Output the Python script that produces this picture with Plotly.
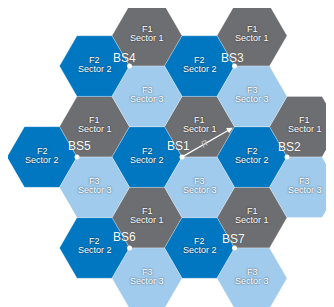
import math
import plotly.graph_objects as go

# Base-station sites on the hexagonal lattice
# column in units of hex radius R, row in units of hex height (R*sqrt(3)); y up
bs_names = ["BS1", "BS2", "BS3", "BS4", "BS5", "BS6", "BS7"]
bs_col = [0.0, 3.0, 1.5, -1.5, -3.0, -1.5, 1.5]
bs_row = [0.0, 0.0, 1.5, 1.5, 0.0, -1.5, -1.5]

# Sectors served by each site
sector_freq = ["F1", "F2", "F3"]
sector_name = ["Sector 1", "Sector 2", "Sector 3"]
sector_colors = ["#6d6e71", "#0077c0", "#a0cbec"]

# Reference radius arrow label
radius_label = "R"

S3 = math.sqrt(3)
PX = 35.0   # pixels per unit
OFF = 8.0   # page body margin offset

# label placement (pixels) relative to each site dot
label_dx = [-3.5, 2.0, -2.5, -5.5, 2.0, -5.0, -1.5]
label_dy = [11.5, 10.5, 8.5, 8.0, 11.5, 10.5, 9.0]

# sector hex centre relative to its site (F1 up-right, F2 left, F3 down-right)
sector_offset = [(0.5, S3 / 2), (-1.0, 0.0), (0.5, -S3 / 2)]

def hex_path(cx, cy):
    xs, ys = [], []
    for k in range(7):
        a = math.radians(60 * k)
        xs.append(cx + math.cos(a))
        ys.append(cy + math.sin(a))
    return xs, ys

fig = go.Figure()
annotations = []
label_font = dict(family="Liberation Sans, Arial, sans-serif", size=9, color="white",
                  shadow="0px 0px 2px rgba(0,0,0,0.7)")

for s in range(3):
    X, Y = [], []
    for i in range(len(bs_names)):
        bx = bs_col[i]
        by = bs_row[i] * S3
        cx = bx + sector_offset[s][0]
        cy = by + sector_offset[s][1]
        hx, hy = hex_path(cx, cy)
        X += hx + [None]
        Y += hy + [None]
        annotations.append(dict(x=cx, y=cy, text=sector_freq[s], showarrow=False,
                                xref="x", yref="y", yshift=6.5, font=label_font))
        annotations.append(dict(x=cx, y=cy, text=sector_name[s], showarrow=False,
                                xref="x", yref="y", yshift=-2.5, font=label_font))
    fig.add_trace(go.Scatter(x=X, y=Y, mode="lines", fill="toself",
                             fillcolor=sector_colors[s],
                             line=dict(color="rgba(255,255,255,0.45)", width=0.6),
                             hoverinfo="skip", showlegend=False))

bx = [c for c in bs_col]
by = [r * S3 for r in bs_row]
fig.add_trace(go.Scatter(x=bx, y=by, mode="markers",
                         marker=dict(color="white", size=5),
                         hoverinfo="skip", showlegend=False))

for i, name in enumerate(bs_names):
    annotations.append(dict(x=bx[i], y=by[i], text=name, showarrow=False,
                            xref="x", yref="y", xshift=label_dx[i], yshift=label_dy[i],
                            font=dict(family="Liberation Sans, Arial, sans-serif",
                                      size=12, color="white",
                                      shadow="0px 0px 1px rgba(0,0,0,0.4)")))

# radius arrow from BS1 to the far vertex of its F1 hexagon
tipx = bs_col[0] + 1.5
tipy = bs_row[0] * S3 + S3 / 2
annotations.append(dict(x=tipx, y=tipy, ax=bx[0], ay=by[0], xref="x", yref="y",
                        axref="x", ayref="y", showarrow=True, arrowhead=2,
                        arrowsize=1, arrowwidth=1.2, arrowcolor="white",
                        standoff=2, text=""))
annotations.append(dict(x=bx[0] + 0.63, y=by[0] + 0.38, text="<i>" + radius_label + "</i>",
                        showarrow=False, xref="x", yref="y", textangle=-31,
                        font=dict(family="Liberation Sans, Arial, sans-serif",
                                  size=9, color="#c8c8c8")))

fig.update_layout(
    width=334, height=307,
    margin=dict(l=0, r=0, t=0, b=0),
    paper_bgcolor="white", plot_bgcolor="white",
    xaxis=dict(range=[(OFF - 182) / PX, (OFF + 334 - 182) / PX], visible=False, fixedrange=True),
    yaxis=dict(range=[(157 - OFF - 307) / PX, (157 - OFF) / PX], visible=False, fixedrange=True),
    annotations=annotations,
    showlegend=False,
)

fig.write_html("out.html")
